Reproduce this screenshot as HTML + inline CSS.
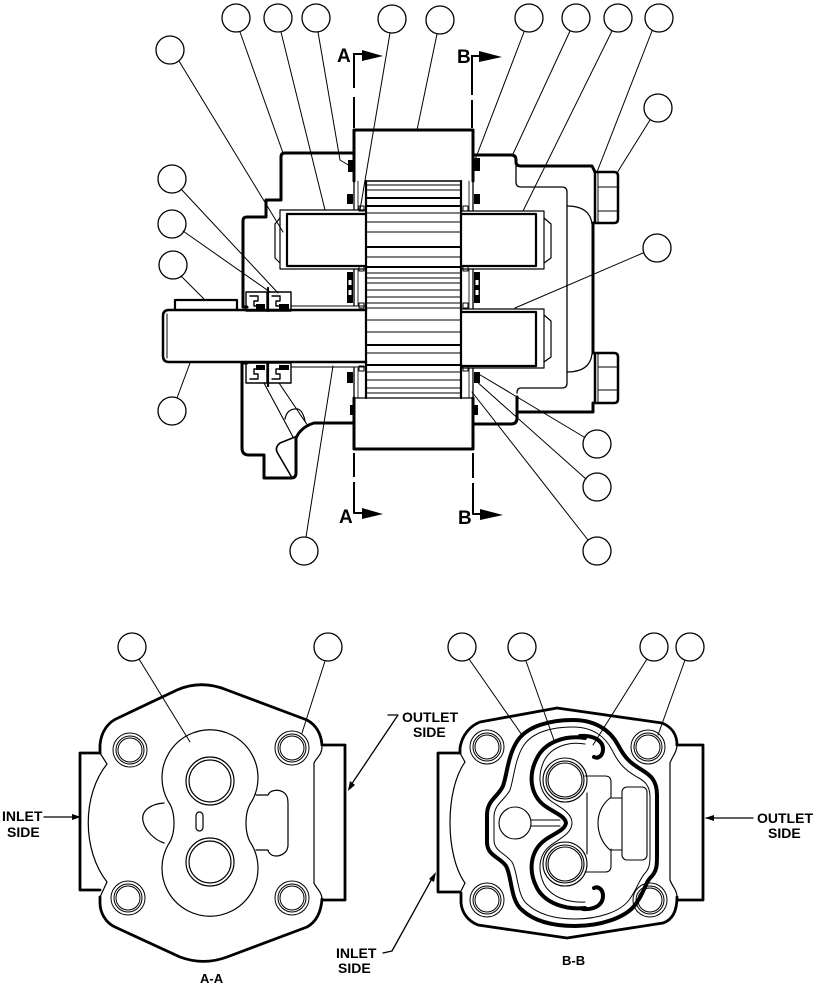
<!DOCTYPE html>
<html><head><meta charset="utf-8"><style>
html,body{margin:0;padding:0;background:#fff;}
svg{display:block;}
text{font-family:"Liberation Sans",Arial,sans-serif;font-weight:bold;fill:#000;stroke:none;}
</style></head><body>
<svg width="816" height="985" viewBox="0 0 816 985" xmlns="http://www.w3.org/2000/svg">
<rect width="816" height="985" fill="#fff"/>
<g fill="none" stroke="#000" stroke-linejoin="round" stroke-linecap="round">

<!-- ===== TOP VIEW ===== -->
<g stroke-width="1.3">
<circle cx="236" cy="18" r="14"/><circle cx="278" cy="18" r="14"/><circle cx="316" cy="18" r="14"/>
<circle cx="392" cy="19" r="14"/><circle cx="440" cy="20" r="14"/><circle cx="529" cy="18" r="14"/>
<circle cx="576" cy="18" r="14"/><circle cx="618" cy="18" r="14"/><circle cx="659" cy="18" r="14"/>
<circle cx="658" cy="108" r="14"/><circle cx="170" cy="50" r="14"/>
<circle cx="172" cy="179" r="14"/><circle cx="172" cy="224" r="14"/><circle cx="173" cy="265" r="14"/>
<circle cx="172" cy="411" r="14"/><circle cx="657" cy="248" r="14"/>
<circle cx="304" cy="551" r="14"/><circle cx="597" cy="444" r="14"/><circle cx="597" cy="487" r="14"/><circle cx="597" cy="551" r="14"/>
</g>
<g stroke-width="1">
<path d="M240,32 L283,153"/><path d="M281,32 L325,210"/><path d="M318,32 L340,160 L350,166"/>
<path d="M390,33 L360,210"/><path d="M437,34 L417,130"/><path d="M524,32 L475,160"/>
<path d="M570,31 L513,154"/><path d="M612,31 L523,211"/><path d="M652,31 L597,172"/>
<path d="M650,120 L617,173"/><path d="M179,61 L283,232"/><path d="M181,189 L278,293"/>
<path d="M183,231 L270,292"/><path d="M181,276 L205,300"/><path d="M177,398 L190,363"/>
<path d="M306,537 L333,366"/><path d="M584,437 L477,373"/><path d="M586,479 L476,381"/>
<path d="M588,540 L472,392"/><path d="M643,253 L515,308"/>
</g>

<g stroke-width="2" stroke-linecap="butt">
<path d="M354,53 V88 M354,97 V128"/>
<path d="M472,55 V95 M472,100 V128"/>
<path d="M354,453 V477 M354,482 V513 H363"/>
<path d="M473,453 V478 M473,483 V514 H481"/>
<path d="M354,54 H364"/><path d="M472,56 H480"/>
</g>
<g fill="#000" stroke="none">
<polygon points="362,50 383,56 362,61"/>
<polygon points="479,51 502,57 479,62"/>
<polygon points="362,508 383,514 362,519"/>
<polygon points="480,509 503,515 480,520"/>
</g>

<path d="M354,181 V130 H473 V181" stroke-width="3"/>
<path d="M354,398 V449 H473 V398" stroke-width="3"/>
<path d="M354,398 H473" stroke-width="1.2"/>

<!-- housing left -->
<path d="M354,153 H285 Q281,153 281,157 V200 H266 V217 H247 Q243,217 243,221 V307 H247" stroke-width="3"/>
<path d="M247,363 H242 V448 Q242,455 249,455 H264 V478 H291 Q296,478 296,473 V438 Q301,427 314,423 H354" stroke-width="3"/>
<path d="M295,437 L280,443 Q275,447 277,452 L291,476" stroke-width="1.6"/>
<path d="M264,383 L293,437 M279,383 L308,426" stroke-width="1.1"/>
<path d="M285,419 Q287,408 298,409 Q303,411 305,421" stroke-width="1.2"/>

<!-- housing right -->
<path d="M473,155 H511 Q516,155 516,160 V162 Q516,166 521,166 H592 L595,172" stroke-width="3"/>
<path d="M593,223 V353" stroke-width="3"/>
<path d="M593,403 V412 H517" stroke-width="3"/>
<path d="M473,424 H511 Q517,424 517,418 V397" stroke-width="3"/>
<path d="M516,166 V182 Q516,187 521,187 H562 Q567,187 567,192 V383 Q567,388 562,388 H521 Q517,388 517,393" stroke-width="1.3"/>
<path d="M567,206 Q590,206 592,224 M592,354 Q590,372 567,372" stroke-width="1.2"/>

<path d="M595,172 H614 Q618,172 618,176 V219 Q618,223 614,223 H595 Z" stroke-width="2.5"/>
<path d="M598,172 V223 M598,187 H617 M598,211 H617" stroke-width="1"/>
<path d="M595,353 H614 Q618,353 618,357 V399 Q618,403 614,403 H595 Z" stroke-width="2.5"/>
<path d="M598,353 V403 M598,367 H617 M598,390 H617" stroke-width="1"/>

<!-- gear stack -->
<path d="M366,181 V398 M461,181 V398" stroke-width="2.2"/>
<path d="M366,181 H461" stroke-width="1.5"/>
<g stroke-width="1">
<path d="M366,185H461M366,190H461M366,213H461M366,222H461M366,232H461M366,257H461M366,273H461M366,278H461M366,283H461M366,290H461M366,297H461M366,303H461M366,308H461M366,320H461M366,332H461M366,353H461M366,372H461M366,380H461M366,388H461M366,393H461"/>
</g>
<g stroke-width="2">
<path d="M366,198H461M366,206H461M366,247H461M366,267H461M366,345H461M366,365H461"/>
</g>
<path d="M354,181 V210 M354,269 V306 M354,368 V398 M473,181 V211 M473,269 V309 M473,368 V398" stroke-width="1.3"/>
<path d="M358,181 V210 M358,269 V306 M358,368 V398 M469,181 V211 M469,269 V309 M469,368 V398" stroke-width="0.8"/>

<path d="M366,210 H280 V269 H366" stroke-width="1.2"/>
<path d="M366,214 H287 V266 H366" stroke-width="2.2"/>
<path d="M280,218 L275,224 V258 L280,263" stroke-width="1.2"/>
<path d="M461,211 H544 V269 H461" stroke-width="1.2"/>
<path d="M461,214 H536 V266 H461" stroke-width="2.2"/>
<path d="M544,218 L551,224 V258 L544,263" stroke-width="1.2"/>
<path d="M461,309 H544 V368 H461" stroke-width="1.2"/>
<path d="M461,312 H536 V366 H461" stroke-width="2.2"/>
<path d="M544,315 L551,321 V357 L544,362" stroke-width="1.2"/>

<path d="M366,310 H169 Q163,310 163,316 V356 Q163,362 169,362 H366" stroke-width="2.5"/>
<path d="M167,314 V358" stroke-width="1"/>
<path d="M291,306 H366 M291,367 H366" stroke-width="1"/>
<path d="M175,310 V300 H237 V310" stroke-width="2.2"/>

<g stroke-width="1.4">
<rect x="246" y="292" width="21" height="19"/><rect x="268" y="292" width="23" height="19"/>
<rect x="246" y="363" width="21" height="20"/><rect x="268" y="363" width="23" height="20"/>
<path d="M250,296 H258 V301 H254 V306 H263 M272,296 H280 V301 H276 V306 H286"/>
<path d="M250,379 H258 V374 H254 V369 H263 M272,379 H280 V374 H276 V369 H286"/>
<path d="M268,288 V311 M268,363 V386" stroke-width="2.2"/>
</g>
<g fill="#000" stroke="none">
<rect x="256" y="304" width="9" height="5"/><rect x="279" y="304" width="10" height="5"/>
<rect x="256" y="365" width="9" height="5"/><rect x="279" y="365" width="10" height="5"/>
<rect x="348" y="160" width="6" height="12"/><rect x="474" y="158" width="6" height="13"/>
<rect x="347" y="194" width="6" height="10"/><rect x="474" y="194" width="6" height="10"/>
<rect x="347" y="272" width="6" height="31"/><rect x="474" y="272" width="6" height="31"/>
<rect x="347" y="372" width="6" height="11"/><rect x="474" y="372" width="6" height="11"/>
<rect x="350" y="405" width="4" height="10"/><rect x="474" y="405" width="4" height="10"/>
</g>
<g fill="#fff" stroke="none">
<rect x="348.5" y="280" width="3" height="5"/><rect x="348.5" y="290" width="3" height="5"/>
<rect x="475.5" y="280" width="3" height="5"/><rect x="475.5" y="290" width="3" height="5"/>
</g>
<g stroke-width="1">
<rect x="359" y="206" width="5" height="5"/><rect x="359" y="266" width="5" height="5"/>
<rect x="359" y="303" width="5" height="5"/><rect x="359" y="366" width="5" height="5"/>
<rect x="463" y="206" width="5" height="5"/><rect x="463" y="266" width="5" height="5"/>
<rect x="463" y="303" width="5" height="5"/><rect x="463" y="366" width="5" height="5"/>
</g>

<!-- ===== A-A VIEW ===== -->
<g stroke-width="1.3">
<circle cx="132" cy="647" r="14"/><circle cx="328" cy="647" r="14"/>
<circle cx="462" cy="647" r="14"/><circle cx="522" cy="647" r="14"/>
<circle cx="654" cy="647" r="14"/><circle cx="690" cy="647" r="14"/>
</g>
<g stroke-width="1">
<path d="M139,659 L190,742"/><path d="M325,661 L302,733"/>
<path d="M469,659 L522,735"/><path d="M526,661 L555,743"/>
<path d="M647,659 L593,745"/><path d="M685,660 L658,735"/>
</g>
<path d="M100,753 V745 C101,732 108,722 118,718 L177,690 C193,683 210,683 227,690 L307,720 C316,725 321,733 322,745" stroke-width="2.8"/>
<path d="M322,899 C321,913 316,922 307,927 L227,957 C211,963 196,963 180,957 L115,927 C106,923 100,913 100,903 V897" stroke-width="2.8"/>
<path d="M322,747 C322,755 316,758 314,763 V883 C316,888 322,892 322,899" stroke-width="1.2"/>
<path d="M100,897 L107,882 C82,850 82,795 107,764 L100,753" stroke-width="1.2"/>
<path d="M100,753 H80 V890 H100" stroke-width="2.8"/>
<path d="M322,745 H345 V900 H322" stroke-width="2.8"/>
<g stroke-width="1">
<circle cx="130" cy="750" r="17"/><circle cx="130" cy="750" r="14"/><circle cx="130" cy="750" r="12"/>
<circle cx="292" cy="748" r="17"/><circle cx="292" cy="748" r="14"/><circle cx="292" cy="748" r="12"/>
<circle cx="128" cy="898" r="17"/><circle cx="128" cy="898" r="14"/><circle cx="128" cy="898" r="12"/>
<circle cx="292" cy="898" r="17"/><circle cx="292" cy="898" r="14"/><circle cx="292" cy="898" r="12"/>
</g>
<path d="M168,801 A48,48 0 1 1 252,801 C244,812 244,834 252,845 A48,48 0 1 1 168,845 C176,834 176,812 168,801 Z" stroke-width="1.2"/>
<path d="M164,803 C150,804 141,811 143,821 C145,831 155,840 164,843" stroke-width="1.2"/>
<path d="M256,795 H268 C270,790 278,789 283,792 C288,795 288,800 288,805 V845 C288,852 282,856 276,856 C270,856 268,851 268,850 H256" stroke-width="1.2"/>
<g stroke-width="1.2">
<circle cx="210" cy="781" r="24"/><circle cx="210" cy="781" r="21"/>
<circle cx="210" cy="862" r="24"/><circle cx="210" cy="862" r="21"/>
<rect x="196" y="812" width="7" height="19" rx="3.5"/>
</g>

<!-- ===== B-B VIEW ===== -->
<path d="M460,753 V748 C462,735 470,726 480,722 L557,708 L662,723 C672,727 677,735 677,745" stroke-width="2.8"/>
<path d="M677,897 C677,912 672,920 663,923 L567,938 L478,925 C468,921 462,913 461,903 V893" stroke-width="2.8"/>
<path d="M677,745 C677,752 672,757 670,763 V880 C672,886 677,890 677,897" stroke-width="1.2"/>
<path d="M460,893 L465,883 C445,855 445,790 465,762 L460,753" stroke-width="1.2"/>
<path d="M460,753 H438 V892 H460" stroke-width="2.8"/>
<path d="M677,745 H703 V900 H677" stroke-width="2.8"/>
<g stroke-width="1">
<circle cx="487" cy="747" r="17"/><circle cx="487" cy="747" r="14"/><circle cx="487" cy="747" r="12"/>
<circle cx="648" cy="747" r="17"/><circle cx="648" cy="747" r="14"/><circle cx="648" cy="747" r="12"/>
<circle cx="487" cy="900" r="17"/><circle cx="487" cy="900" r="14"/><circle cx="487" cy="900" r="12"/>
<circle cx="650" cy="900" r="17"/><circle cx="650" cy="900" r="14"/><circle cx="650" cy="900" r="12"/>
</g>
<path d="M573,720 C550,720 528,726 518,740 C508,754 507,775 503,786 C498,797 487,800 487,815 L487,842 C487,856 500,857 506,866 C512,876 510,900 522,910 C535,922 555,926 575,926 C600,926 625,918 635,905 C645,892 645,882 652,876 C657,870 657,865 657,855 L657,795 C657,780 650,775 642,770 C630,763 625,758 618,745 C610,730 595,720 573,720 Z" stroke-width="4"/>
<path d="M573,727 C552,727 533,732 524,745 C515,758 514,778 510,790 C505,800 494,804 494,817 L494,840 C494,851 505,853 512,862 C518,872 517,896 527,904 C539,915 557,919 575,919 C598,919 620,912 629,900 C638,888 639,879 646,872 C650,867 650,862 650,853 L650,797 C650,786 645,781 637,777 C625,770 619,764 612,750 C605,736 592,727 573,727 Z" stroke-width="1"/>
<path d="M585,738 C565,735 545,742 537,758 C528,775 530,795 545,806 C555,813 565,816 566,823 C565,830 555,833 545,840 C530,851 528,871 537,888 C545,903 565,910 585,908" stroke-width="4"/>
<path d="M585,744 C568,741 551,747 544,761 C537,776 539,792 551,801 C561,808 572,813 572,823 C572,833 561,838 551,845 C539,854 537,869 544,884 C551,897 568,903 585,902" stroke-width="1"/>
<path d="M580,736 C594,735 603,741 603,749 C603,756 598,759 594,757" stroke-width="4"/>
<path d="M583,909 C596,910 603,904 603,896 C603,889 598,886 594,888" stroke-width="4"/>
<g stroke-width="1.1">
<circle cx="565" cy="780" r="22"/><circle cx="565" cy="780" r="19"/><circle cx="565" cy="780" r="17"/>
<circle cx="565" cy="864" r="22"/><circle cx="565" cy="864" r="19"/><circle cx="565" cy="864" r="17"/>
<circle cx="515" cy="823" r="16"/>
<path d="M531,820 H560 M531,826 H560"/>
<rect x="622" y="787" width="25" height="73" rx="5"/>
<path d="M622,798 H610 C601,805 598,815 598,823 C598,833 602,843 610,850 H622"/>
<path d="M585,776 H605 Q611,776 611,782 V798 M611,849 V866 Q611,872 605,872 H585 M587,793 V854"/>
</g>

<g stroke-width="1.3">
<path d="M44,817 H80"/>
<path d="M388,715 H398 L349,788"/>
<path d="M706,818 H753"/>
<path d="M383,953 L392,951 L434,875"/>
</g>
<g fill="#000" stroke="none">
<polygon points="72,814 81,817 72,820"/>
<polygon points="355,785 348,791 350,781"/>
<polygon points="714,815 705,818 714,821"/>
<polygon points="434,882 436,872 429,879"/>
</g>
</g>

<text x="337" y="62" font-size="19">A</text>
<text x="457" y="63" font-size="19">B</text>
<text x="339" y="523" font-size="19">A</text>
<text x="458" y="524" font-size="19">B</text>
<text x="2" y="821" font-size="14">INLET</text>
<text x="7" y="837" font-size="14">SIDE</text>
<text x="402" y="722" font-size="14">OUTLET</text>
<text x="413" y="737" font-size="14">SIDE</text>
<text x="757" y="823" font-size="14">OUTLET</text>
<text x="768" y="838" font-size="14">SIDE</text>
<text x="336" y="958" font-size="14">INLET</text>
<text x="338" y="973" font-size="14">SIDE</text>
<text x="200" y="983" font-size="13">A-A</text>
<text x="562" y="965" font-size="13">B-B</text>
</svg>
</body></html>
